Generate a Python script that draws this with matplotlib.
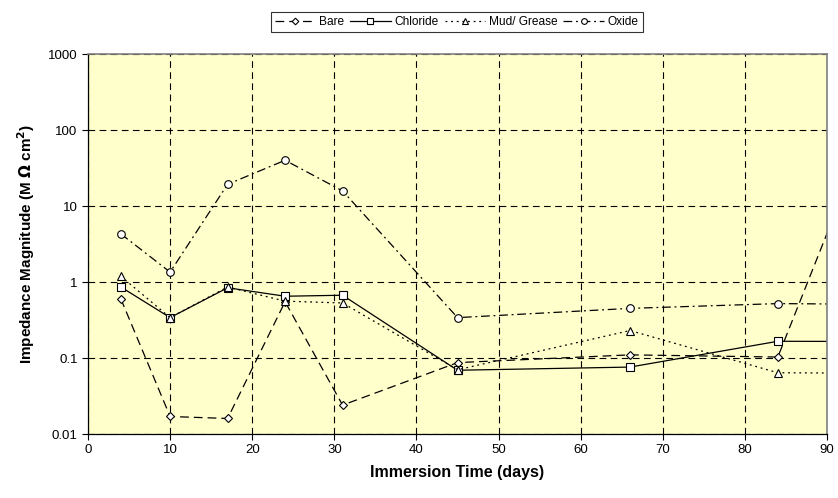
import matplotlib
matplotlib.use("Agg")
import matplotlib.pyplot as plt
from matplotlib.ticker import FixedLocator, NullLocator

plt.rcParams['font.family'] = ['Liberation Sans', 'DejaVu Sans']

days = [4, 10, 17, 24, 31, 45, 66, 84, 95]
bare = [0.60, 0.017, 0.016, 0.55, 0.024, 0.087, 0.11, 0.103, 100]
chloride = [0.86, 0.34, 0.84, 0.65, 0.67, 0.069, 0.076, 0.166, 0.165]
mud = [1.19, 0.34, 0.86, 0.56, 0.53, 0.070, 0.23, 0.064, 0.063]
oxide = [4.3, 1.35, 19.3, 40, 15.8, 0.34, 0.45, 0.52, 0.51]

x_ticks = [0, 10, 20, 30, 40, 50, 60, 70, 80, 90]
y_ticks = [0.01, 0.1, 1, 10, 100, 1000]
y_labels = ['0.01', '0.1', '1', '10', '100', '1000']

fig = plt.figure(figsize=(8.38, 4.98), dpi=100)
ax = fig.add_axes([0.105, 0.1285, 0.882, 0.763])
ax.set_facecolor('#FFFFCC')

mk = dict(markerfacecolor='white', markeredgecolor='black', markersize=5.5,
          markeredgewidth=0.8, color='black', linewidth=0.9)
ax.plot(days, bare, linestyle=(0, (7, 4)), marker='D', label='Bare',
        **{**mk, 'markersize': 4.5})
ax.plot(days, chloride, linestyle='-', marker='s', label='Chloride', **mk)
ax.plot(days, mud, linestyle=(0, (1.5, 3)), marker='^', label='Mud/ Grease', **mk)
ax.plot(days, oxide, linestyle=(0, (7, 3, 1.5, 3)), marker='o', label='Oxide', **mk)

ax.set_yscale('log')
ax.set_xlim(0, 90)
ax.set_ylim(0.01, 1000)
ax.xaxis.set_major_locator(FixedLocator(x_ticks))
ax.yaxis.set_major_locator(FixedLocator(y_ticks))
ax.yaxis.set_minor_locator(NullLocator())
ax.set_yticklabels(y_labels)
ax.grid(True, which='major', color='black', linestyle=(0, (6, 4)), linewidth=0.8)
ax.tick_params(axis='both', direction='out', length=4, width=0.8, labelsize=9.5,
               colors='black')

for s in ['top', 'right']:
    ax.spines[s].set_color('#808080')
    ax.spines[s].set_linewidth(1.2)
for s in ['left', 'bottom']:
    ax.spines[s].set_color('black')
    ax.spines[s].set_linewidth(0.9)

ax.set_xlabel('Immersion Time (days)', fontsize=11.5, fontweight='bold', labelpad=6)
ax.set_ylabel('Impedance Magnitude (M $\\mathbf{\\Omega}$ cm$^{\\mathbf{2}}$)',
              fontsize=11, fontweight='bold', labelpad=8)

leg = fig.legend(loc='center', bbox_to_anchor=(0.545, 0.956), ncol=4, fontsize=8.6,
                 frameon=True, fancybox=False, edgecolor='black', handlelength=3.4,
                 handletextpad=0.3, columnspacing=0.5, borderpad=0.35,
                 markerscale=0.75)
leg.get_frame().set_linewidth(0.8)

fig.savefig('out.png', dpi=100, facecolor='white')
